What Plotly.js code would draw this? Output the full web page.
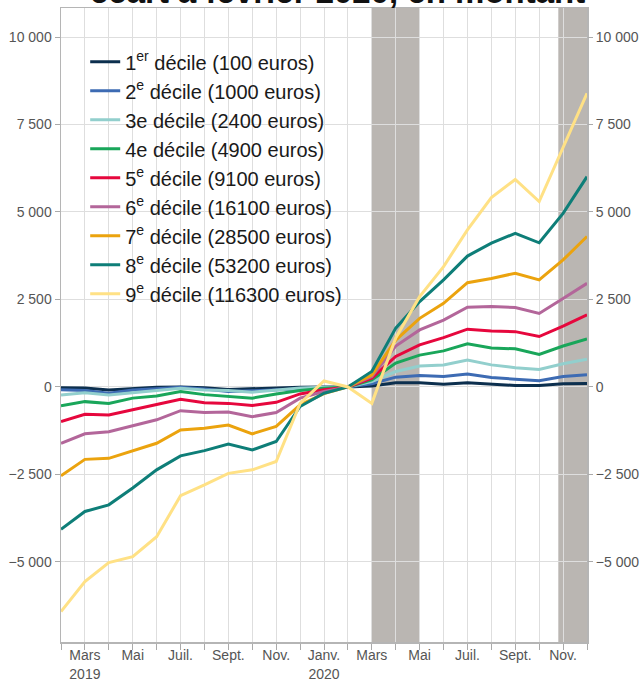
<!DOCTYPE html>
<html>
<head>
<meta charset="utf-8">
<script src="https://cdn.plot.ly/plotly-3.0.1.min.js"></script>
<style>
html,body{margin:0;padding:0;background:#fff;}
#chart{width:641px;height:681px;}
</style>
</head>
<body>
<div id="chart"></div>
<script>
// Months: Feb 2019 .. Dec 2020
const months = ["2019-02","2019-03","2019-04","2019-05","2019-06","2019-07","2019-08","2019-09","2019-10","2019-11","2019-12",
  "2020-01","2020-02","2020-03","2020-04","2020-05","2020-06","2020-07","2020-08","2020-09","2020-10","2020-11","2020-12"];
// labelled months (every second month) and their text
const labelMonths = ["2019-03","2019-05","2019-07","2019-09","2019-11","2020-01","2020-03","2020-05","2020-07","2020-09","2020-11"];
const tickLabels = ["Mars<br>2019","Mai","Juil.","Sept.","Nov.","Janv.<br>2020","Mars","Mai","Juil.","Sept.","Nov."];

const seriesNames = [
  "1<sup>er</sup> décile (100 euros)",
  "2<sup>e</sup> décile (1000 euros)",
  "3e décile (2400 euros)",
  "4e décile (4900 euros)",
  "5<sup>e</sup> décile (9100 euros)",
  "6<sup>e</sup> décile (16100 euros)",
  "7<sup>e</sup> décile (28500 euros)",
  "8<sup>e</sup> décile (53200 euros)",
  "9<sup>e</sup> décile (116300 euros)"
];
const d1 = [-20,-30,-90,-40,-10,0,-20,-70,-50,-20,-10,-5,0,30,120,120,80,120,70,40,40,90,100];
const d2 = [-80,-100,-180,-90,-50,-10,-60,-130,-110,-80,-40,-20,0,90,280,330,300,370,270,220,180,300,350];
const d3 = [-230,-170,-230,-160,-100,-40,-90,-100,-150,-80,-30,-10,0,150,440,600,630,770,630,550,500,660,790];
const d4 = [-540,-420,-470,-320,-260,-130,-220,-260,-320,-200,-100,-40,0,200,680,910,1030,1230,1110,1090,930,1170,1370];
const d5 = [-990,-780,-800,-640,-500,-350,-450,-470,-530,-440,-200,-80,0,250,870,1200,1410,1650,1600,1580,1440,1740,2060];
const d6 = [-1610,-1340,-1280,-1110,-940,-680,-730,-720,-850,-730,-320,-130,0,300,1170,1630,1910,2280,2300,2270,2100,2530,2960];
const d7 = [-2540,-2070,-2040,-1830,-1610,-1230,-1180,-1090,-1340,-1130,-510,-190,0,340,1340,1960,2390,2980,3100,3250,3060,3630,4300];
const d8 = [-4070,-3560,-3370,-2890,-2370,-1970,-1820,-1630,-1800,-1560,-560,-180,0,440,1680,2440,3060,3740,4110,4390,4120,4960,6010];
const d9 = [-6420,-5560,-5020,-4850,-4280,-3110,-2800,-2470,-2370,-2130,-470,170,0,-470,1400,2580,3440,4490,5410,5930,5300,6820,8390];
const seriesValues = [d1,d2,d3,d4,d5,d6,d7,d8,d9];
const colors = ["#0c2f4e","#3d6bb3","#92cfcd","#19a65a","#e6073d","#b3669a","#eba30e","#0e7e78","#ffe185"];

// Shaded periods (month-index positions)
const shadeStart = [13, 20.8];
const shadeEnd = [15, 22];

const xIdx = months.map((m, i) => i);
const labelIdx = labelMonths.map(m => months.indexOf(m));

const traces = seriesValues.map((vals, k) => ({
  x: xIdx, y: vals, type: "scatter", mode: "lines", name: seriesNames[k],
  line: {color: colors[k], width: 3}, hoverinfo: "skip"
}));
// invisible trace for right axis
traces.push({x: [xIdx[0]], y: [0], yaxis: "y2", type: "scatter", mode: "markers",
  marker: {opacity: 0}, showlegend: false, hoverinfo: "skip"});

const font = "Liberation Sans, Arial, sans-serif";
const yRange = [-7290, 10830];
const yTicks = [-5000, -2500, 0, 2500, 5000, 7500, 10000];

const layout = {
  width: 641, height: 681,
  margin: {l: 61, r: 54, t: 8, b: 39},
  paper_bgcolor: "#ffffff", plot_bgcolor: "#ffffff",
  separators: ", ",
  font: {family: font, size: 14, color: "#555"},
  showlegend: true,
  legend: {x: 0.046, y: 0.946, xanchor: "left", yanchor: "top",
    bgcolor: "rgba(0,0,0,0)", font: {family: font, size: 20, color: "#1a1a1a"},
    tracegroupgap: 0},
  xaxis: {range: [0, 22], tickvals: labelIdx, ticktext: tickLabels, ticks: "outside", ticklen: 6,
    tickcolor: "#aaa", showgrid: true, gridcolor: "#dedede", gridwidth: 1,
    minor: {tick0: 0, dtick: 1, ticks: "outside", ticklen: 6, tickcolor: "#aaa",
      showgrid: true, gridcolor: "#dedede", gridwidth: 1},
    ticklabelstandoff: -6,
    showline: true, linecolor: "#b5b5b5", linewidth: 1.5, mirror: true, zeroline: false,
    tickfont: {family: font, size: 14, color: "#555"}, fixedrange: true},
  yaxis: {range: yRange, tickvals: yTicks, ticks: "outside", ticklen: 5, tickcolor: "#aaa",
    showgrid: true, gridcolor: "#dedede", gridwidth: 1, zeroline: false,
    showline: true, linecolor: "#b5b5b5", linewidth: 1.5, mirror: true,
    exponentformat: "none", separatethousands: true,
    tickfont: {family: font, size: 14, color: "#555"}},
  yaxis2: {range: yRange, tickvals: yTicks, overlaying: "y", side: "right", ticks: "outside",
    ticklen: 5, tickcolor: "#aaa", showgrid: false, zeroline: false, showline: false,
    exponentformat: "none", separatethousands: true,
    tickfont: {family: font, size: 14, color: "#555"}},
  shapes: shadeStart.map((s, i) => ({type: "rect", xref: "x", yref: "paper", x0: s, x1: shadeEnd[i],
    y0: 0, y1: 1, fillcolor: "#bab6b2", line: {width: 0}, layer: "below"})),
  annotations: [{xref: "paper", yref: "paper", x: 0.525, y: 0.994, xanchor: "center", yanchor: "bottom",
    text: "écart à février 2020, en montant", showarrow: false,
    font: {family: font, size: 33, color: "#111", weight: "bold"}}]
};

Plotly.newPlot("chart", traces, layout, {displayModeBar: false, staticPlot: true});
</script>
</body>
</html>
